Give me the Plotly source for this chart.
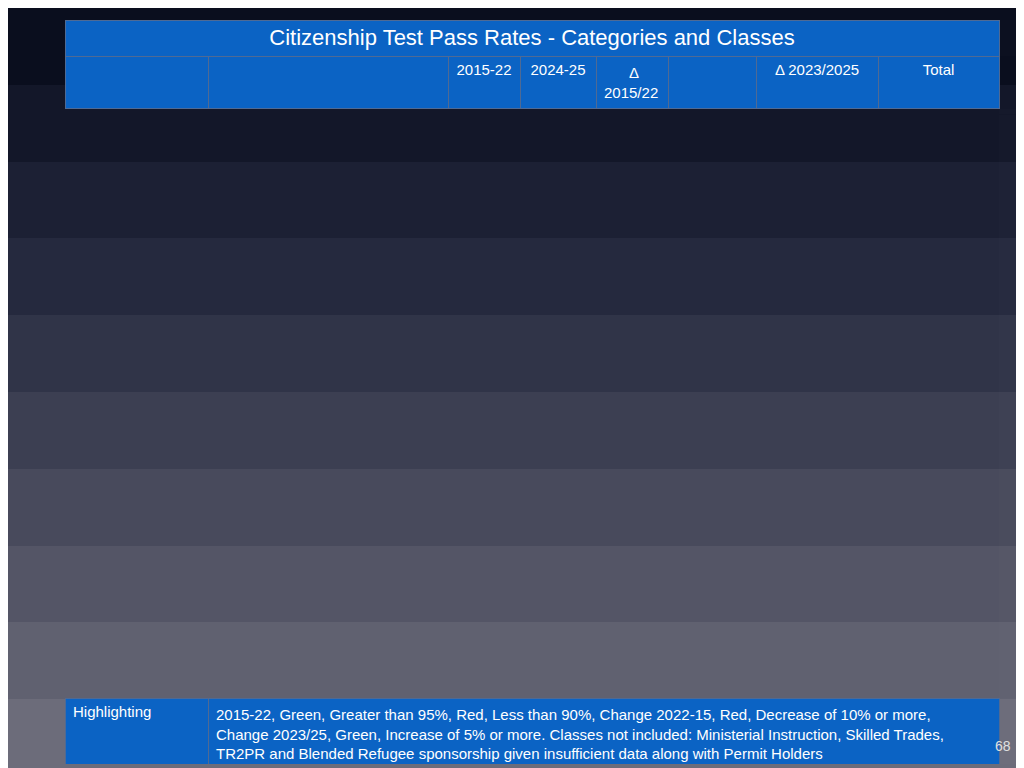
import plotly.graph_objects as go

title = "Citizenship Test Pass Rates - Categories and Classes"

categories = ["Economic"] * 8 + ["Family Class"] * 4 + ["H&C"] * 3 + ["Protected Persons"] * 4 + ["Other/Unspecified", "Total"]
classes = ["Canadian Experience Class", "Caregiver", "Federal Business", "Federal Skilled Workers",
           "Provincial Nominee Program", "Quebec Business", "Quebec Skilled Workers", "Total",
           "Family relations H&C", "Parents and Grandparents", "Spouses, Partners & Children", "Total",
           "Humanitarian & Compassionate", "Public Policy", "Total",
           "GARs", "PSRs", "Landed & Dependents", "Total",
           "Total", ""]
rate_1522 = ["97.8%", "86.9%", "92.4%", "96.9%", "92.7%", "92.7%", "94.8%", "94.5%",
             "85.0%", "78.5%", "85.7%", "85.2%", "81.6%", "78.5%", "81.2%",
             "65.0%", "71.5%", "81.5%", "74.4%", "91.7%", "89.7%"]
rate_2425 = ["99.3%", "95.1%", "97.6%", "99.4%", "98.3%", "97.7%", "98.4%", "98.7%",
             "95.0%", "92.7%", "95.5%", "95.4%", "96.0%", "91.2%", "95.8%",
             "89.7%", "91.8%", "95.8%", "93.6%", "97.9%", "97.3%"]
delta_rate = ["0.4%", "3.9%", "-0.7%", "2.3%", "3.1%", "0.1%", "-0.2%", "1.8%",
              "0.6%", "9.3%", "4.9%", "5.2%", "4.2%", "4.1%", "4.3%",
              "15.5%", "21.0%", "7.2%", "12.5%", "1.2%", "3.1%"]
pct_change = ["505.5%", "44.3%", "-72.3%", "-12.4%", "98.4%", "-27.8%", "-22.7%", "29.4%",
              "23.9%", "-20.1%", "50.7%", "43.1%", "46.8%", "515.4%", "60.4%",
              "59.1%", "254.8%", "63.0%", "105.5%", "-40.6%", "41.0%"]
delta_2325 = ["1.3%", "9.5%", "4.5%", "1.3%", "4.3%", "6.8%", "4.5%", "3.2%",
              "9.8%", "9.7%", "8.7%", "8.8%", "11.8%", "7.3%", "11.6%",
              "10.7%", "7.1%", "7.1%", "7.9%", "4.6%", "5.5%"]
totals = ["168,500", "79,180", "14,570", "290,120", "267,295", "17,235", "196,065", "1,073,845",
          "22,700", "19,630", "319,540", "361,870", "23,960", "2,030", "26,000",
          "53,500", "60,975", "106,175", "223,495", "7,425", "1,692,875"]

# highlight flags (G green, R red) for 2024-25, % change, delta 2023/25
hl_2425 = "GGGGGGGG" + "--GG" + "G-G" + "R-G-" + "-" + "-"
hl_pct = "G-RRGRR-" + "-R--" + "-G-" + "-G-G" + "-" + "-"
hl_2325 = "-G---G--" + "GGGG" + "GGG" + "GGGG" + "-" + "G"

head_row1 = ["", "", "2015-22", "2024-25", "\u00a0\u00a0\u00a0\u00a0\u00a0\u00a0Δ 2015/22", "", "Δ 2023/2025", "Total"]
head_row2 = ["", "", "Rate", "Rate", "Rate", "% Change", "", ""]

footer_label = "Highlighting"
footer_text = ("2015-22, Green, Greater than 95%, Red, Less than 90%, Change 2022-15, Red, Decrease of 10% or more,<br>"
               "Change 2023/25, Green, Increase of 5% or more. Classes not included: Ministerial Instruction, Skilled Trades,<br>"
               "TR2PR and Blended Refugee sponsorship given insufficient data along with Permit Holders")

BLUE = "#0b63c4"
CYAN = "#14d6e0"
GREEN = "#9ccf7c"
RED = "#e98a7a"
TOTRED = "#d65a53"
LINE = "#4f6a94"
row_bg = ["#3c3c3f", "#060608", "#3e3e44", "#0a0a14", "#3c3c4a", "#0e0e1e", "#444456", CYAN,
          "#505064", "#24243c", "#5a5a70", CYAN, "#5e5e74", "#2c2c48", CYAN,
          "#4a4a60", "#7b7b8d", "#4e4e63", CYAN, "#58586c", TOTRED]

widths = [143, 240, 72, 76, 72, 88, 122, 121]
FONT = "Liberation Sans, Arial"
x_dom = [57 / 1024, 991 / 1024]


def ydom(top, bottom):
    return [1 - bottom / 768, 1 - top / 768]


n = len(classes)
cols = [categories, classes, rate_1522, rate_2425, delta_rate, pct_change, delta_2325, totals]
shown = []
fills = []
fcolors = []
for ci in range(8):
    fc, tc, vals = [], [], []
    for r in range(n):
        v = cols[ci][r]
        if r == n - 2 and ci >= 2:
            v = "<span style='font-size:19px'>" + v + "</span>"
        vals.append(v)
        bg = row_bg[r]
        if ci == 0 and r < n - 1:
            bg = BLUE
        flag = "-"
        if ci == 3:
            flag = hl_2425[r]
        elif ci == 5:
            flag = hl_pct[r]
        elif ci == 6:
            flag = hl_2325[r]
        if flag == "G":
            fc.append(GREEN)
            tc.append("#111111")
        elif flag == "R":
            fc.append(RED)
            tc.append("#3a1a1a")
        else:
            fc.append(bg)
            tc.append("white")
    shown.append(vals)
    fills.append(fc)
    fcolors.append(tc)

bg_z = [[0], [1], [2], [3], [4], [5], [6], [7], [8], [9]]

fig = go.Figure()
fig.add_trace(go.Heatmap(z=bg_z, showscale=False, hoverinfo="skip",
                         colorscale=[[0, "#0a0e1e"], [0.35, "#262a40"], [1, "#6c6c7a"]]))

fig.add_trace(go.Table(
    domain=dict(x=x_dom, y=ydom(12, 48)),
    columnwidth=[1],
    header=dict(values=[title], fill_color=BLUE, line_color=LINE, height=36,
                font=dict(family=FONT, size=22, color="white"), align="center"),
))

fig.add_trace(go.Table(
    domain=dict(x=x_dom, y=ydom(48, 107)),
    columnwidth=widths,
    header=dict(values=head_row1, fill_color=BLUE, line_color=LINE, height=31,
                font=dict(family=FONT, size=15, color="white"),
                align=["left", "left", "center", "center", "left", "center", "center", "center"]),
    cells=dict(values=[[v] for v in head_row2], fill_color=BLUE, line_color=LINE, height=28,
               font=dict(family=FONT, size=15, color="white"), align="center"),
))

fig.add_trace(go.Table(
    domain=dict(x=x_dom, y=ydom(107, 691)),
    columnwidth=widths,
    header=dict(values=[""] * 8, height=0, line_width=0, fill_color="rgba(0,0,0,0)"),
    cells=dict(values=shown, fill_color=fills, line_color=LINE, height=27.8,
               font=dict(family=FONT, size=15, color=fcolors),
               align=["left", "left", "right", "right", "right", "right", "right", "right"]),
))

fig.add_trace(go.Table(
    domain=dict(x=x_dom, y=ydom(690, 756)),
    columnwidth=[143, 791],
    header=dict(values=[footer_label, footer_text], fill_color=BLUE, line_color=LINE, height=64,
                font=dict(family=FONT, size=15, color="white"), align="left"),
))

fig.add_annotation(text="68", x=1005 / 1024, y=1 - 748 / 768, xref="paper", yref="paper",
                   showarrow=False, font=dict(family=FONT, size=14, color="#e0e0e0"))

fig.update_xaxes(visible=False, domain=[0, 1])
fig.update_yaxes(visible=False, domain=[0, 1], autorange="reversed")
fig.update_layout(width=1024, height=768, margin=dict(l=0, r=0, t=0, b=0),
                  paper_bgcolor="#262a40", plot_bgcolor="#262a40")

fig.write_html("out.html")
